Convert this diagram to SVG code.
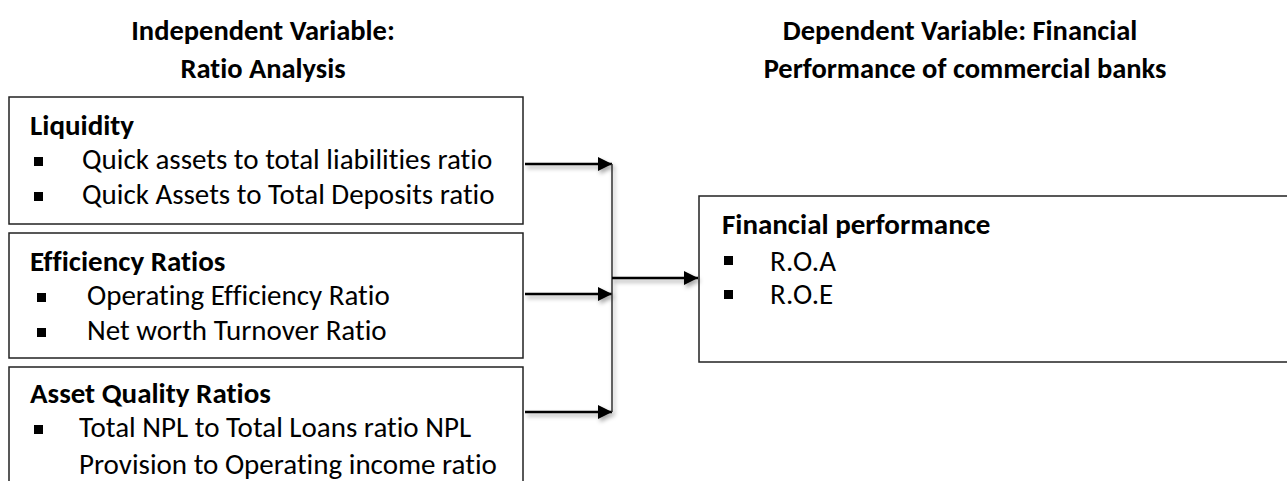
<svg xmlns="http://www.w3.org/2000/svg" width="1287" height="481" viewBox="0 0 1287 481">
<style>
text{font-family:Carlito,Lato,"Open Sans","Liberation Sans",sans-serif;font-size:29px;fill:#000;font-variant-ligatures:none}
.b{font-weight:bold}
.t{font-weight:bold;text-anchor:middle;font-size:28.5px}
.box{fill:#fff;stroke:#222;stroke-width:1.5}
.sq{fill:#000}
.ln{stroke:#000;stroke-width:2.6;fill:none}
.vl{stroke:#333;stroke-width:1.5;fill:none}
</style>
<defs>
<marker id="ah" viewBox="0 0 14 14" refX="14" refY="7" markerWidth="14" markerHeight="14" markerUnits="userSpaceOnUse" orient="auto">
<path d="M0,0 L14,7 L0,14 Z" fill="#000"/>
</marker>
<filter id="sh" x="-10%" y="-10%" width="130%" height="150%">
<feDropShadow dx="2" dy="3" stdDeviation="2" flood-color="#000" flood-opacity="0.35"/>
</filter>
</defs>
<g id="title-left">
<text class="t" x="263" y="40">Independent Variable:</text>
<text class="t" x="263" y="78">Ratio Analysis</text>
</g>
<g id="title-right">
<text class="t" x="960" y="40">Dependent Variable: Financial</text>
<text class="t" x="965" y="78">Performance of commercial banks</text>
</g>
<g id="liquidity">
<rect class="box" x="9" y="97" width="514" height="127"/>
<text class="b" x="30" y="135">Liquidity</text>
<rect class="sq" x="34" y="157" width="9" height="9"/>
<text x="82" y="169">Quick assets to total liabilities ratio</text>
<rect class="sq" x="34" y="192" width="9" height="9"/>
<text x="82" y="204">Quick Assets to Total Deposits ratio</text>
</g>
<g id="efficiency">
<rect class="box" x="9" y="233" width="514" height="125"/>
<text class="b" x="30" y="271">Efficiency Ratios</text>
<rect class="sq" x="37" y="293" width="9" height="9"/>
<text x="87" y="305">Operating Efficiency Ratio</text>
<rect class="sq" x="37" y="328" width="9" height="9"/>
<text x="87" y="340">Net worth Turnover Ratio</text>
</g>
<g id="asset-quality">
<rect class="box" x="9" y="367" width="514" height="130"/>
<text class="b" x="30" y="403">Asset Quality Ratios</text>
<rect class="sq" x="34" y="425" width="9" height="9"/>
<text x="79" y="437">Total NPL to Total Loans ratio NPL</text>
<text x="79" y="474">Provision to Operating income ratio</text>
</g>
<g id="financial-performance">
<rect class="box" x="699" y="196" width="600" height="166"/>
<text class="b" x="722" y="234">Financial performance</text>
<rect class="sq" x="724" y="256" width="9" height="9"/>
<text x="770" y="271">R.O.A</text>
<rect class="sq" x="724" y="290" width="9" height="9"/>
<text x="770" y="304">R.O.E</text>
</g>
<g id="connectors" filter="url(#sh)">
<line class="ln" x1="525" y1="164" x2="612" y2="164" marker-end="url(#ah)"/>
<line class="ln" x1="525" y1="294" x2="612" y2="294" marker-end="url(#ah)"/>
<line class="ln" x1="525" y1="412" x2="612" y2="412" marker-end="url(#ah)"/>
<line class="vl" x1="612" y1="164" x2="612" y2="412"/>
<line class="ln" x1="612" y1="278" x2="698" y2="278" marker-end="url(#ah)"/>
</g>
</svg>
